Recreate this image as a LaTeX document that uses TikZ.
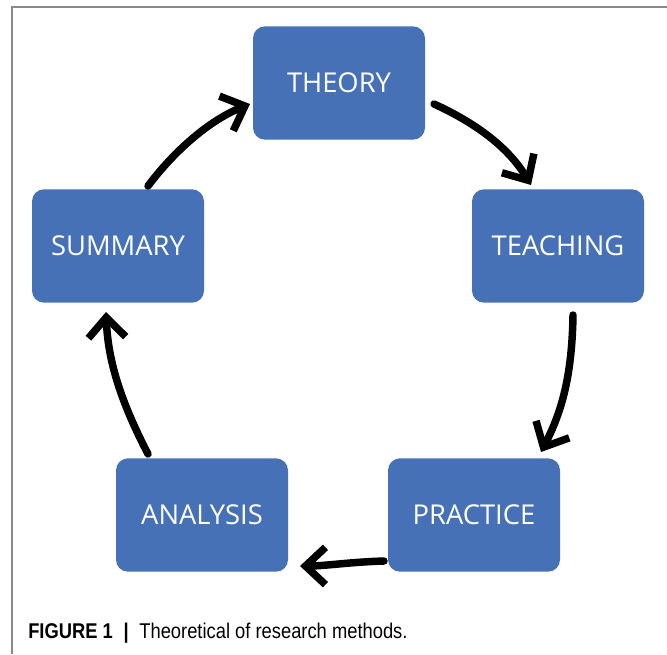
\documentclass[tikz,border=0pt]{standalone}
\usepackage{fontspec}
\setmainfont{Liberation Sans}
\newfontfamily\boxfont{Open Sans}
\newfontfamily\capfont[FakeStretch=0.86]{Liberation Sans}
\usetikzlibrary{arrows.meta}
\definecolor{stepblue}{HTML}{4671B7}
\definecolor{framegray}{HTML}{8A8A8A}
\tikzset{
  stepbox/.style={fill=stepblue, rounded corners=9pt, minimum width=129pt, minimum height=85pt,
    inner sep=0pt, text=white, font=\boxfont\fontsize{20.5}{23}\selectfont},
  handarrow/.style={draw=black, line width=5.6pt, line cap=round,
    -{Straight Barb[length=15pt, width=28pt, line width=5.6pt]}},
}
\begin{document}
\begin{tikzpicture}[x=0.75pt, y=-0.75pt]
  \useasboundingbox (0,0) rectangle (667,654);
  \fill[white] (0,0) rectangle (667,654);
  % frame
  \draw[framegray, line width=1pt] (12,654) -- (12,7) -- (667,7);

  % the five stages
  \node[stepbox] (theory)   at (339,83)  {THEORY};
  \node[stepbox] (teaching) at (558,246) {TEACHING};
  \node[stepbox] (practice) at (474,515) {PRACTICE};
  \node[stepbox] (analysis) at (202,515) {ANALYSIS};
  \node[stepbox] (summary)  at (118,246) {SUMMARY};

  % connectors around the cycle
  \coordinate (a1) at (434,104);
  \coordinate (b1) at (531,185);
  \coordinate (a2) at (573,315);
  \coordinate (b2) at (541,452);
  \coordinate (a3) at (384,561);
  \coordinate (b3) at (300,566);
  \coordinate (a4) at (148,454);
  \coordinate (b4) at (106,312);
  \coordinate (a5) at (148,186);
  \coordinate (b5) at (250,104);

  \draw[handarrow] (a1) .. controls (480,125) and (510,150) .. (b1);
  \draw[handarrow] (a2) .. controls (572,380) and (560,415) .. (b2);
  \draw[handarrow] (a3) .. controls (350,562) and (325,566) .. (b3);
  \draw[handarrow] (a4) .. controls (120,400) and (108,360) .. (b4);
  \draw[handarrow] (a5) .. controls (175,150) and (210,120) .. (b5);

  % caption
  \node[anchor=base west, inner sep=0pt, font=\capfont\fontsize{16}{18}\selectfont] (caption) at (28,638)
    {\textbf{FIGURE 1}\hspace{0.5em}\textbf{|}\hspace{0.5em}Theoretical of research methods.};
\end{tikzpicture}
\end{document}
